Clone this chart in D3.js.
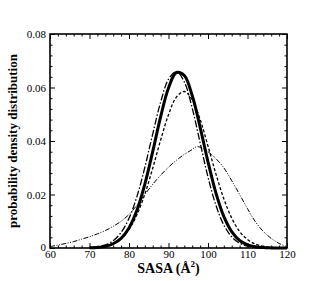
<!DOCTYPE html>
<html>
<head>
<meta charset="utf-8">
<script src="https://cdn.jsdelivr.net/npm/d3@7/dist/d3.min.js"></script>
<style>
html,body{margin:0;padding:0;background:#fff;}
svg text{font-family:"Liberation Serif","Times New Roman",serif;}
</style>
</head>
<body>
<svg id="chart" width="316" height="281"></svg>
<script>
// ---- data ----
const sasaBroad  = [60,62,64,66,68,70,72,74,76,78,80,82,84,86,88,90,92,94,96,97,98,100,102,104,106,108,110,112,114,116,118,120];
const broadDensity = [0.0005,0.0011,0.0017,0.0024,0.0033,0.0042,0.0053,0.0065,0.0081,0.0100,0.0125,0.0160,0.0200,0.0238,0.0272,0.0302,0.0328,0.0350,0.0368,0.0378,0.0377,0.0360,0.0334,0.0300,0.0252,0.0200,0.0147,0.0098,0.0062,0.0036,0.0017,0.0005];

const sasaNarrow = [70,72,74,76,78,80,82,84,86,88,90,92,94,96,98,100,102,104,106,108,110,112,114,116,118,120];
const solidDensity   = [0.00007,0.0002,0.0006,0.0016,0.0036,0.0075,0.0141,0.0238,0.0360,0.0490,0.0598,0.0656,0.0645,0.0570,0.0452,0.0322,0.0206,0.0118,0.0061,0.0028,0.0012,0.00045,0.00015,0.00004,0,0];
const dashDotDensity = [0.00016,0.00045,0.00117,0.00274,0.0058,0.0111,0.0192,0.0301,0.0426,0.0545,0.0631,0.0660,0.0621,0.0523,0.0394,0.0265,0.0160,0.0086,0.0042,0.0018,0.0007,0.00024,0.00008,0.00002,0,0];
const dashedDensity  = [0.00011,0.00029,0.00074,0.00171,0.00363,0.0070,0.01245,0.0201,0.0298,0.0403,0.0498,0.0564,0.0585,0.0554,0.0481,0.0381,0.0277,0.0184,0.0112,0.0062,0.00315,0.00146,0.00062,0.00024,0.00008,0.00003];

const xTicks = [60,70,80,90,100,110,120];
const yTicks = [0,0.02,0.04,0.06,0.08];
const yTickLabels = ["0","0.02","0.04","0.06","0.08"];
const xTitle = "SASA (\u00C5";
const yTitle = "probability density distribution";

// ---- layout ----
const W = 316, H = 281;
const L = 50, R = 287, T = 34, B = 248;
const svg = d3.select("#chart");
svg.append("rect").attr("width", W).attr("height", H).attr("fill", "#fff");

const x = d3.scaleLinear().domain([60,120]).range([L,R]);
const y = d3.scaleLinear().domain([0,0.08]).range([B,T]);

const xMinor = d3.range(60,121,2).filter(v => v % 10 !== 0);
const yMinor = d3.range(0,0.0801,0.004).filter(v => Math.abs(v/0.02 - Math.round(v/0.02)) > 1e-6);

function styleAxis(g){
  g.select(".domain").remove();
  g.selectAll("line").attr("stroke","#000").attr("stroke-width",1);
  g.selectAll("text").attr("font-size","11px").attr("fill","#000")
   .attr("font-family",'"Liberation Serif","Times New Roman",serif');
}

// bottom
svg.append("g").attr("transform",`translate(0,${B})`)
  .call(d3.axisBottom(x).tickValues(xTicks).tickFormat(d3.format("d")).tickSizeInner(-5).tickSizeOuter(0).tickPadding(2.5))
  .call(styleAxis);
svg.append("g").attr("transform",`translate(0,${B})`)
  .call(d3.axisBottom(x).tickValues(xMinor).tickFormat("").tickSizeInner(-2.5).tickSizeOuter(0))
  .call(styleAxis);
// top
svg.append("g").attr("transform",`translate(0,${T})`)
  .call(d3.axisTop(x).tickValues(xTicks).tickFormat("").tickSizeInner(-5).tickSizeOuter(0))
  .call(styleAxis);
svg.append("g").attr("transform",`translate(0,${T})`)
  .call(d3.axisTop(x).tickValues(xMinor).tickFormat("").tickSizeInner(-2.5).tickSizeOuter(0))
  .call(styleAxis);
// left
const leftAxis = svg.append("g").attr("transform",`translate(${L},0)`)
  .call(d3.axisLeft(y).tickValues(yTicks).tickFormat((d,i)=>yTickLabels[i]).tickSizeInner(-5).tickSizeOuter(0).tickPadding(4))
  .call(styleAxis);
leftAxis.selectAll(".tick").filter(d => d === 0).select("text").attr("dy","0.2em");
svg.append("g").attr("transform",`translate(${L},0)`)
  .call(d3.axisLeft(y).tickValues(yMinor).tickFormat("").tickSizeInner(-2.5).tickSizeOuter(0))
  .call(styleAxis);
// right
svg.append("g").attr("transform",`translate(${R},0)`)
  .call(d3.axisRight(y).tickValues(yTicks).tickFormat("").tickSizeInner(-5).tickSizeOuter(0))
  .call(styleAxis);
svg.append("g").attr("transform",`translate(${R},0)`)
  .call(d3.axisRight(y).tickValues(yMinor).tickFormat("").tickSizeInner(-2.5).tickSizeOuter(0))
  .call(styleAxis);

// curves
function drawCurve(xs, ys, width, dash){
  const pts = xs.map((v,i)=>[v,ys[i]]);
  svg.append("path").datum(pts)
    .attr("d", d3.line().x(d=>x(d[0])).y(d=>y(d[1])).curve(d3.curveCatmullRom.alpha(0.5)))
    .attr("fill","none").attr("stroke","#000")
    .attr("stroke-width",width)
    .attr("stroke-dasharray",dash)
    .attr("stroke-linejoin","round");
}
drawCurve(sasaBroad, broadDensity, 1, "5,1.5,1,1.5,1,1.5");
drawCurve(sasaNarrow, dashedDensity, 1.3, "3,2");
drawCurve(sasaNarrow, dashDotDensity, 1.3, "7,2,1.5,2");
drawCurve(sasaNarrow, solidDensity, 3, null);

// frame
svg.append("rect").attr("x",L).attr("y",T).attr("width",R-L).attr("height",B-T)
  .attr("fill","none").attr("stroke","#000").attr("stroke-width",1.6);

// titles
const xt = svg.append("text").attr("x",(L+R)/2).attr("y",272.5)
  .attr("text-anchor","middle").attr("font-size","14px").attr("font-weight","bold");
xt.append("tspan").text(xTitle);
xt.append("tspan").attr("font-size","9px").attr("dy","-6").text("2");
xt.append("tspan").attr("dy","6").text(")");

svg.append("text").attr("transform",`translate(17,${(T+B)/2}) rotate(-90)`)
  .attr("text-anchor","middle").attr("font-size","13px").attr("font-weight","bold")
  .text(yTitle);
</script>
</body>
</html>
